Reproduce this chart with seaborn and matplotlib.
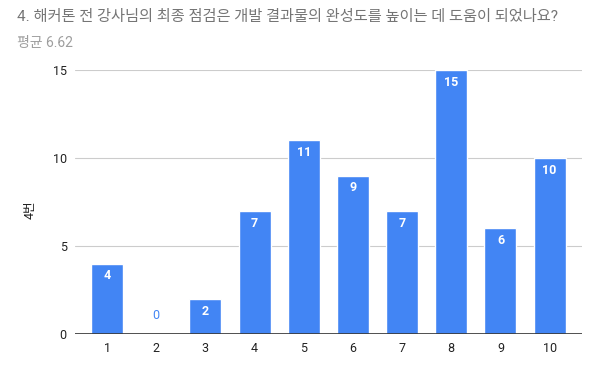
import matplotlib
matplotlib.use("Agg")
import matplotlib.pyplot as plt
import seaborn as sns
import pandas as pd

# =============================================================================
# DATA
# =============================================================================
TITLE = "4. 해커톤 전 강사님의 최종 점검은 개발 결과물의 완성도를 높이는 데 도움이 되었나요?"
SUBTITLE = "평균 6.62"
Y_LABEL = "4번"
scores = ["1", "2", "3", "4", "5", "6", "7", "8", "9", "10"]
counts = [4, 0, 2, 7, 11, 9, 7, 15, 6, 10]
y_ticks = [0, 5, 10, 15]

BLUE = "#4285F4"

# =============================================================================
# PLOT
# =============================================================================
sns.set_style("white")
plt.rcParams["font.family"] = ["Roboto", "Noto Sans CJK KR", "DejaVu Sans"]

df = pd.DataFrame({"score": scores, "count": counts})

fig = plt.figure(figsize=(5.98, 3.69), dpi=100)
ax = fig.add_axes([0.1254, 0.0949, 0.8474, 0.7154])

sns.barplot(data=df, x="score", y="count", color=BLUE, saturation=1,
            width=0.65, ax=ax, zorder=3)

ax.set_ylim(0, 15)
ax.set_xlim(-0.653, len(scores) - 1 + 0.653)
ax.set_yticks(y_ticks)
ax.yaxis.grid(True, color="#cccccc", linewidth=0.8, zorder=0)
ax.axhline(0, color="#333333", linewidth=1.2, zorder=4)
for s in ax.spines.values():
    s.set_visible(False)
ax.tick_params(axis="both", length=0, labelsize=9, colors="#222222", pad=6)
ax.set_xlabel("")
ax.set_ylabel(Y_LABEL, fontsize=9, color="#222222")
ax.yaxis.set_label_coords(-0.075, 0.47)

for i, v in enumerate(counts):
    if v > 0:
        ax.text(i, v - 0.7, str(v), ha="center", va="center", color="white",
                fontsize=9, fontweight="bold", zorder=5)
    else:
        ax.text(i, v + 1.07, str(v), ha="center", va="center", color=BLUE,
                fontsize=9, zorder=5)

fig.text(17 / 598, 1 - 17 / 369, TITLE, fontsize=11, color="#757575",
         ha="left", va="center")
fig.text(17 / 598, 1 - 43 / 369, SUBTITLE, fontsize=10, color="#9e9e9e",
         ha="left", va="center")

fig.savefig("out.png", dpi=100)
